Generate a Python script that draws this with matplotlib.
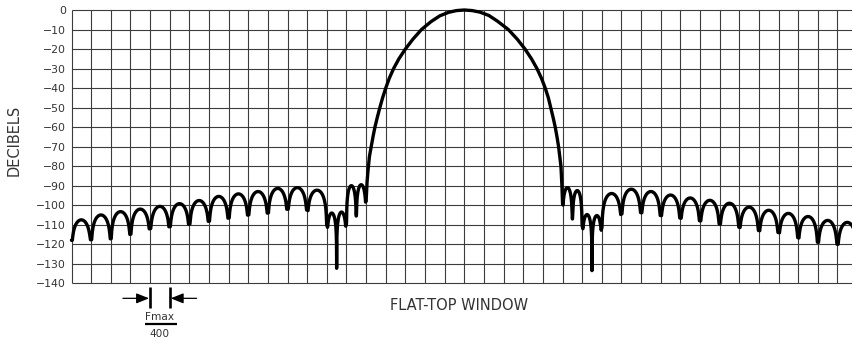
import numpy as np
import matplotlib
matplotlib.use("Agg")
import matplotlib.pyplot as plt

# ---------------- data (x in frequency bins, y in dB) ----
# left side-lobe structure: null positions / depths, lobe peak between consecutive nulls
left_null_x = [-20, -19, -18, -17, -16, -15, -14, -13, -12, -11, -10, -9, -8, -7,
               -6.5, -6, -5.5, -5]
left_null_db = [-118, -117.7, -117.2, -114.9, -112, -111, -109.7, -108.2, -106.6,
                -105, -104, -102, -102.5, -110, -132.3, -109.3, -105.5, -98]
left_peak_db = [-107.5, -105, -103.3, -102, -100.6, -99.2, -97.6, -95.5, -94.2,
                -93, -91.4, -91, -92.3, -104, -103.5, -90, -89.5]

# main lobe
main_x = [-5.0, -4.95, -4.9, -4.83, -4.74, -4.65, -4.55, -4.43, -4.3, -4.16, -4.0,
          -3.82, -3.6, -3.33, -3.0, -2.62, -2.18, -1.7, -1.25, -0.8, -0.4, 0.0,
          0.4, 0.8, 1.25, 1.7, 2.24, 2.7, 3.09, 3.42, 3.7, 3.93, 4.12, 4.28, 4.4,
          4.52, 4.63, 4.72, 4.8, 4.86, 4.92, 4.97, 5.0]
main_db = [-98, -88, -82, -75, -70, -65, -60, -55, -50, -45, -40,
           -35, -30, -25, -20, -15, -10, -6, -3, -1.2, -0.3, 0.0,
           -0.3, -1.1, -2.8, -5.8, -10, -15, -20, -25, -30, -35, -40, -45, -50,
           -55, -60, -65, -70, -75, -80, -90, -99.5]

# right side-lobe structure
right_null_x = [5, 5.5, 6, 6.5, 7, 8, 9, 10, 11, 12, 13, 14, 15, 16, 17, 18, 19, 20]
right_null_db = [-99.5, -107, -110.5, -133.5, -111.5, -104.5, -103.8, -105.3, -106.6,
                 -108, -109.6, -111.3, -113, -114, -116.7, -119, -120, -121]
right_peak_db = [-91, -92.5, -104.8, -105.3, -94, -91.8, -93, -94.8, -96.3, -97.5,
                 -99, -101, -102.6, -104.2, -105.8, -107.8, -108.8]

y_ticks = [0, -10, -20, -30, -40, -50, -60, -70, -80, -90, -100, -110, -120, -130, -140]
y_tick_labels = ["0", "\u221210", "\u221220", "\u221230", "\u221240", "\u221250",
                 "\u221260", "\u221270", "\u221280", "\u221290", "\u2212100",
                 "\u2212110", "\u2212120", "\u2212130", "\u2212140"]
x_grid = list(range(-20, 20))
x_min, x_max = -20, 19.74
y_min, y_max = -140, 0

ylabel = "DECIBELS"
xlabel = "FLAT-TOP WINDOW"
frac_num = "Fmax"
frac_den = "400"
res_bins = [-16, -15]   # resolution marker bars


def lobes(null_x, null_db, peak_db, k=12.0):
    """Render side lobes as rounded arches between nulls (shape only)."""
    xs, ys = [], []
    t = np.concatenate([np.linspace(0, 0.06, 15), np.linspace(0.06, 0.94, 45)[1:-1],
                        np.linspace(0.94, 1, 15)])
    for i, pk in enumerate(peak_db):
        a, b = null_x[i], null_x[i + 1]
        da, db = null_db[i], null_db[i + 1]
        shape = pk + k * np.log10(np.sin(np.pi * t) + 1e-12)
        floor = da + (db - da) * t
        xs.append(a + (b - a) * t)
        ys.append(np.maximum(shape, floor))
    return np.concatenate(xs), np.concatenate(ys)


lx, ly = lobes(left_null_x, left_null_db, left_peak_db)
rx, ry = lobes(right_null_x, right_null_db, right_peak_db)
cx = np.concatenate([lx, np.array(main_x), rx])
cy = np.concatenate([ly, np.array(main_db), ry])

W, H = 852, 343
fig = plt.figure(figsize=(W / 100, H / 100), dpi=100)
ax = fig.add_axes([71.5 / W, (H - 283.3) / H, (W - 71.5) / W, 273.3 / H])
ax.set_xlim(x_min, x_max)
ax.set_ylim(y_min, y_max)
for s in ax.spines.values():
    s.set_visible(False)

gcol = "#3c3c3c"
ax.vlines(x_grid, y_min, y_max, colors=gcol, lw=0.8, clip_on=False, zorder=1)
ax.hlines(y_ticks, x_min, x_max + 1, colors=gcol, lw=0.8, clip_on=False, zorder=1)

ax.plot(cx, cy, color="black", lw=2.4, solid_joinstyle="round",
        solid_capstyle="round", clip_on=False, zorder=3)

ax.set_xticks([])
ax.set_yticks(y_ticks)
ax.set_yticklabels(y_tick_labels, fontsize=7.8, color="#333333")
ax.tick_params(axis="y", length=0, pad=4)

txtc = "#333333"
fig.text(14 / W, 1 - 140 / H, ylabel, rotation=90, ha="center", va="center",
         fontsize=10.5, color=txtc)
fig.text(459 / W, 1 - 306 / H, xlabel, ha="center", va="center",
         fontsize=10.5, color=txtc)

# resolution marker (Fmax/400)
bar_top, bar_bot = -141.7, -152.8
arrow_y = -147.7
ax.vlines(res_bins, bar_bot, bar_top, colors="black", lw=1.9, clip_on=False)
astyle = dict(arrowstyle="-|>,head_length=0.55,head_width=0.22", color="black",
              lw=0.9, shrinkA=0, shrinkB=0, mutation_scale=14)
ax.annotate("", xy=(res_bins[0] - 0.05, arrow_y), xytext=(res_bins[0] - 1.38, arrow_y),
            arrowprops=astyle, annotation_clip=False)
ax.annotate("", xy=(res_bins[1] + 0.05, arrow_y), xytext=(res_bins[1] + 1.37, arrow_y),
            arrowprops=astyle, annotation_clip=False)
mid = (res_bins[0] + res_bins[1]) / 2
ax.text(mid, -157.2, frac_num, ha="center", va="center", fontsize=7.6,
        color=txtc, clip_on=False)
ax.hlines([-160.6], res_bins[0] - 0.27, res_bins[1] + 0.36, colors="black", lw=1.6,
          clip_on=False)
ax.text(mid, -166.0, frac_den, ha="center", va="center", fontsize=7.6,
        color=txtc, clip_on=False)

fig.savefig("out.png", dpi=100)
